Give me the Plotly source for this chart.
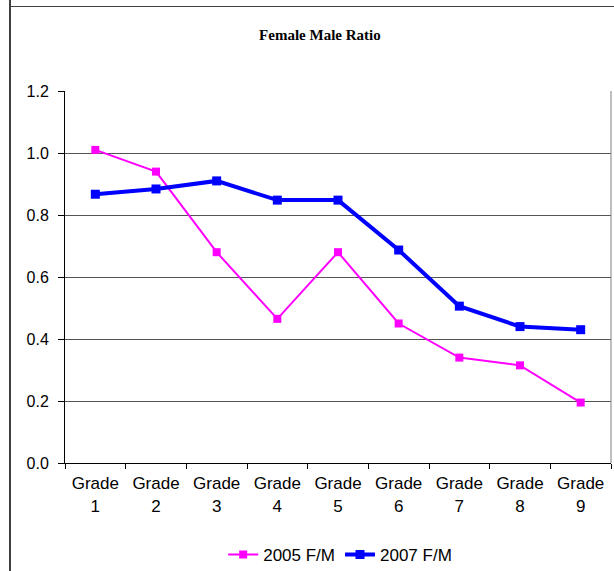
"""
Female/male ratio by grade, 2005 vs 2007
"""
import plotly.graph_objects as go

grades = ['Grade<br>1', 'Grade<br>2', 'Grade<br>3', 'Grade<br>4', 'Grade<br>5',
          'Grade<br>6', 'Grade<br>7', 'Grade<br>8', 'Grade<br>9']
ratio_2005 = [1.01, 0.94, 0.68, 0.465, 0.68, 0.45, 0.34, 0.315, 0.195]
ratio_2007 = [0.867, 0.884, 0.91, 0.848, 0.848, 0.687, 0.506, 0.44, 0.43]
y_ticks = [0.0, 0.2, 0.4, 0.6, 0.8, 1.0, 1.2]

fig = go.Figure()
fig.add_trace(
    go.Scatter(
        x=grades, y=ratio_2005, mode='lines+markers', name='2005 F/M',
        line=dict(color='#FF00FF', width=2),
        marker=dict(symbol='square', size=8, color='#FF00FF')
    )
)
fig.add_trace(
    go.Scatter(
        x=grades, y=ratio_2007, mode='lines+markers', name='2007 F/M',
        line=dict(color='#0000FF', width=4),
        marker=dict(symbol='square', size=9, color='#0000FF')
    )
)

fig.update_layout(
    width=614, height=571,
    margin=dict(l=65, r=3, t=91, b=108, autoexpand=False),
    paper_bgcolor='white', plot_bgcolor='white',
    font=dict(family='Liberation Sans, Arial', size=16, color='black'),
    title=dict(
        text='<b>Female Male Ratio</b>',
        font=dict(family='Liberation Serif, Times New Roman', size=15, color='black'),
        x=0.521, xanchor='center', y=0.939, yanchor='middle'
    ),
    legend=dict(
        orientation='h', x=0.504, xanchor='center', y=-0.247, yanchor='middle',
        font=dict(size=17), tracegroupgap=0
    ),
    showlegend=True,
)

fig.update_xaxes(
    showline=True, linecolor='black', linewidth=1,
    ticks='outside', ticklen=5, tickcolor='black', tickson='boundaries',
    tickfont=dict(size=17), ticklabelstandoff=5,
    showgrid=False, range=[-0.5, 8.5], fixedrange=True
)
fig.update_yaxes(
    range=[0, 1.2], tickvals=y_ticks, tickformat='.1f',
    showline=True, linecolor='black', linewidth=1,
    ticks='outside', ticklen=6, tickcolor='black', ticklabelstandoff=6,
    tickfont=dict(size=16),
    showgrid=True, gridcolor='#555555', gridwidth=1,
    zeroline=False
)

# chart frame: left and top edges, placed in container pixels via an annotation box
# left edge
fig.add_shape(type='line', xref='paper', yref='paper',
              x0=-55 / 546, x1=-55 / 546, y0=-0.6, y1=1.5,
              line=dict(color='#404040', width=2))
# top edge, drawn as a bordered empty annotation box spanning the width
fig.add_annotation(
    xref='paper', yref='paper', x=-56 / 546, y=456 / 372,
    xanchor='left', yanchor='bottom', text='', showarrow=False,
    width=700, height=1, bgcolor='#404040', borderwidth=0, borderpad=0
)
# right edge of plot area
fig.add_shape(type='line', xref='paper', yref='paper',
              x0=1, x1=1, y0=0, y1=1,
              line=dict(color='#808080', width=1))

fig.write_html("out.html", config={'displayModeBar': False},
               post_script="document.body.style.margin='0px';")
